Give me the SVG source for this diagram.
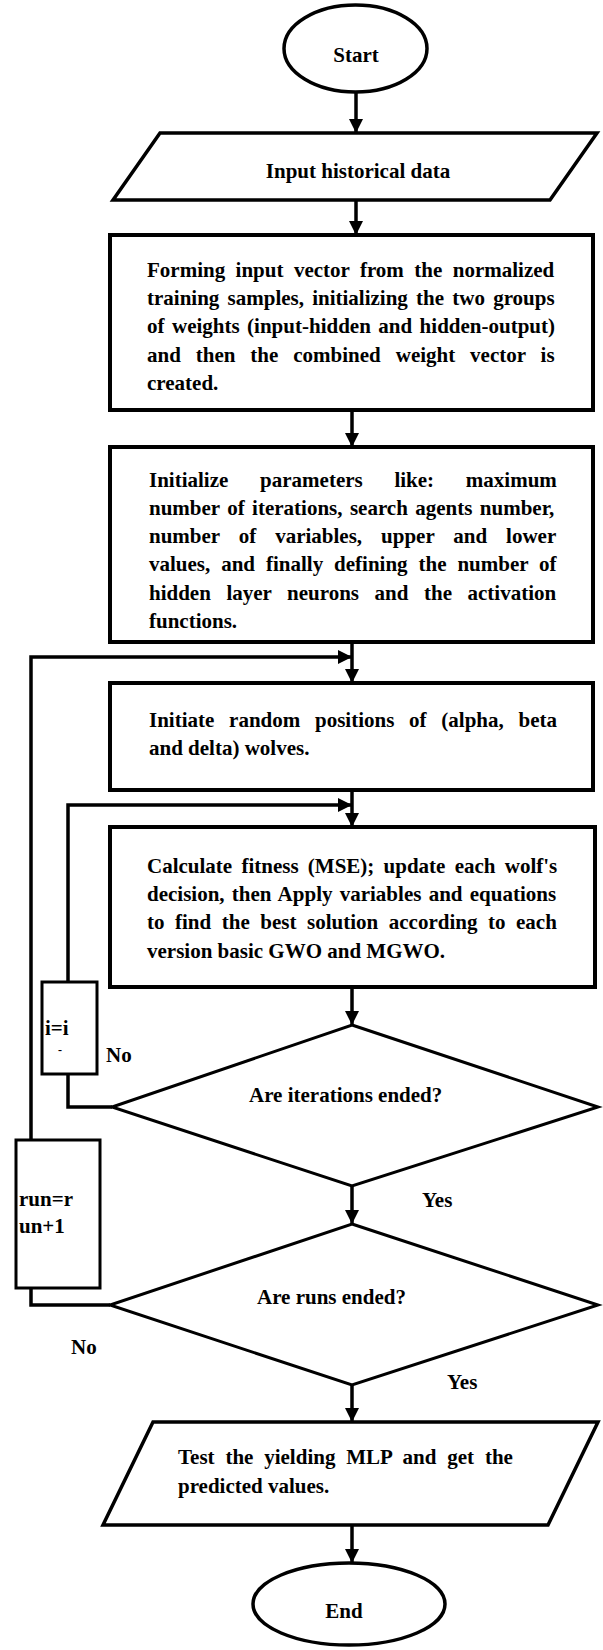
<svg xmlns="http://www.w3.org/2000/svg" width="603" height="1650" viewBox="0 0 603 1650">
<style>
.t{font-family:"Liberation Serif","Times New Roman",serif;font-weight:bold;font-size:21px;fill:#000}
.c{text-anchor:middle}
.box{fill:#fff;stroke:#000;stroke-width:4}
.shape{fill:#fff;stroke:#000;stroke-width:3.5}
.thin{fill:#fff;stroke:#000;stroke-width:3}
.con{fill:none;stroke:#000;stroke-width:3.5}
</style>
<defs>
<marker id="ah" markerUnits="userSpaceOnUse" markerWidth="15" markerHeight="14" refX="14" refY="7" orient="auto">
<path d="M0,0 L14,7 L0,14 z" fill="#000"/>
</marker>
</defs>
<rect width="603" height="1650" fill="#fff"/>

<g id="connectors">
<line class="con" x1="356" y1="92" x2="356" y2="133" marker-end="url(#ah)"/>
<line class="con" x1="356" y1="200" x2="356" y2="235" marker-end="url(#ah)"/>
<line class="con" x1="352" y1="410" x2="352" y2="447" marker-end="url(#ah)"/>
<line class="con" x1="352" y1="642" x2="352" y2="683" marker-end="url(#ah)"/>
<line class="con" x1="352" y1="790" x2="352" y2="827" marker-end="url(#ah)"/>
<line class="con" x1="352" y1="987" x2="352" y2="1025" marker-end="url(#ah)"/>
<line class="con" x1="352" y1="1186" x2="352" y2="1224" marker-end="url(#ah)"/>
<line class="con" x1="352" y1="1385" x2="352" y2="1422" marker-end="url(#ah)"/>
<line class="con" x1="352" y1="1525" x2="352" y2="1563" marker-end="url(#ah)"/>
<path class="con" d="M112,1107 H68 V1074"/>
<path class="con" d="M68,982 V805 H352" marker-end="url(#ah)"/>
<path class="con" d="M110,1305 H31 V1288"/>
<path class="con" d="M31,1140 V657 H352" marker-end="url(#ah)"/>
</g>

<g id="start">
<ellipse class="shape" cx="355.5" cy="48.5" rx="71.5" ry="43.5"/>
<text class="t c" x="356" y="62">Start</text>
</g>

<g id="input">
<polygon class="shape" points="160,133 597,133 550,200 113,200"/>
<text class="t c" x="358" y="178">Input historical data</text>
</g>

<g id="forming">
<rect class="box" x="110" y="235" width="483" height="175"/>
<text class="t" x="147" y="277" word-spacing="5.19">Forming input vector from the normalized</text>
<text class="t" x="147" y="305" word-spacing="2.96">training samples, initializing the two groups</text>
<text class="t" x="147" y="333" word-spacing="2.22">of weights (input-hidden and hidden-output)</text>
<text class="t" x="147" y="362" word-spacing="9.67">and then the combined weight vector is</text>
<text class="t" x="147" y="390">created.</text>
</g>

<g id="initialize">
<rect class="box" x="110" y="447" width="483" height="195"/>
<text class="t" x="149" y="487" word-spacing="26.5">Initialize parameters like: maximum</text>
<text class="t" x="149" y="515" word-spacing="2.16">number of iterations, search agents number,</text>
<text class="t" x="149" y="543" word-spacing="13.7">number of variables, upper and lower</text>
<text class="t" x="149" y="571" word-spacing="5.67">values, and finally defining the number of</text>
<text class="t" x="149" y="600" word-spacing="10.3">hidden layer neurons and the activation</text>
<text class="t" x="149" y="628">functions.</text>
</g>

<g id="initiate">
<rect class="box" x="110" y="683" width="483" height="107"/>
<text class="t" x="149" y="727" word-spacing="9.5">Initiate random positions of (alpha, beta</text>
<text class="t" x="149" y="755">and delta) wolves.</text>
</g>

<g id="calculate">
<rect class="box" x="110" y="827" width="485" height="160"/>
<text class="t" x="147" y="873" word-spacing="4">Calculate fitness (MSE); update each wolf's</text>
<text class="t" x="147" y="901" word-spacing="2">decision, then Apply variables and equations</text>
<text class="t" x="147" y="929" word-spacing="5.3">to find the best solution according to each</text>
<text class="t" x="147" y="958">version basic GWO and MGWO.</text>
</g>

<g id="iter-decision">
<polygon class="thin" points="352,1025 598,1107 352,1186 112,1107"/>
<text class="t" x="249" y="1102">Are iterations ended?</text>
</g>

<g id="increment-i">
<rect class="thin" x="42" y="982" width="55" height="92"/>
<text class="t" x="45" y="1035">i=i</text>
<text class="t" x="58" y="1054" style="font-size:12px">-</text>
</g>

<g id="runs-decision">
<polygon class="thin" points="352,1224 598,1305 352,1385 110,1305"/>
<text class="t" x="257" y="1304">Are runs ended?</text>
</g>

<g id="increment-run">
<rect class="thin" x="16" y="1140" width="84" height="148"/>
<text class="t" x="19" y="1206">run=r</text>
<text class="t" x="19" y="1233">un+1</text>
</g>

<g id="labels">
<text class="t" x="106" y="1062">No</text>
<text class="t" x="422" y="1207">Yes</text>
<text class="t" x="71" y="1354">No</text>
<text class="t" x="447" y="1389">Yes</text>
</g>

<g id="test">
<polygon class="shape" points="153,1422 598,1422 548,1525 103,1525"/>
<text class="t" x="178" y="1464" word-spacing="5.58">Test the yielding MLP and get the</text>
<text class="t" x="178" y="1493">predicted values.</text>
</g>

<g id="end">
<ellipse class="shape" cx="349" cy="1604" rx="96" ry="41"/>
<text class="t c" x="344" y="1618">End</text>
</g>
</svg>
